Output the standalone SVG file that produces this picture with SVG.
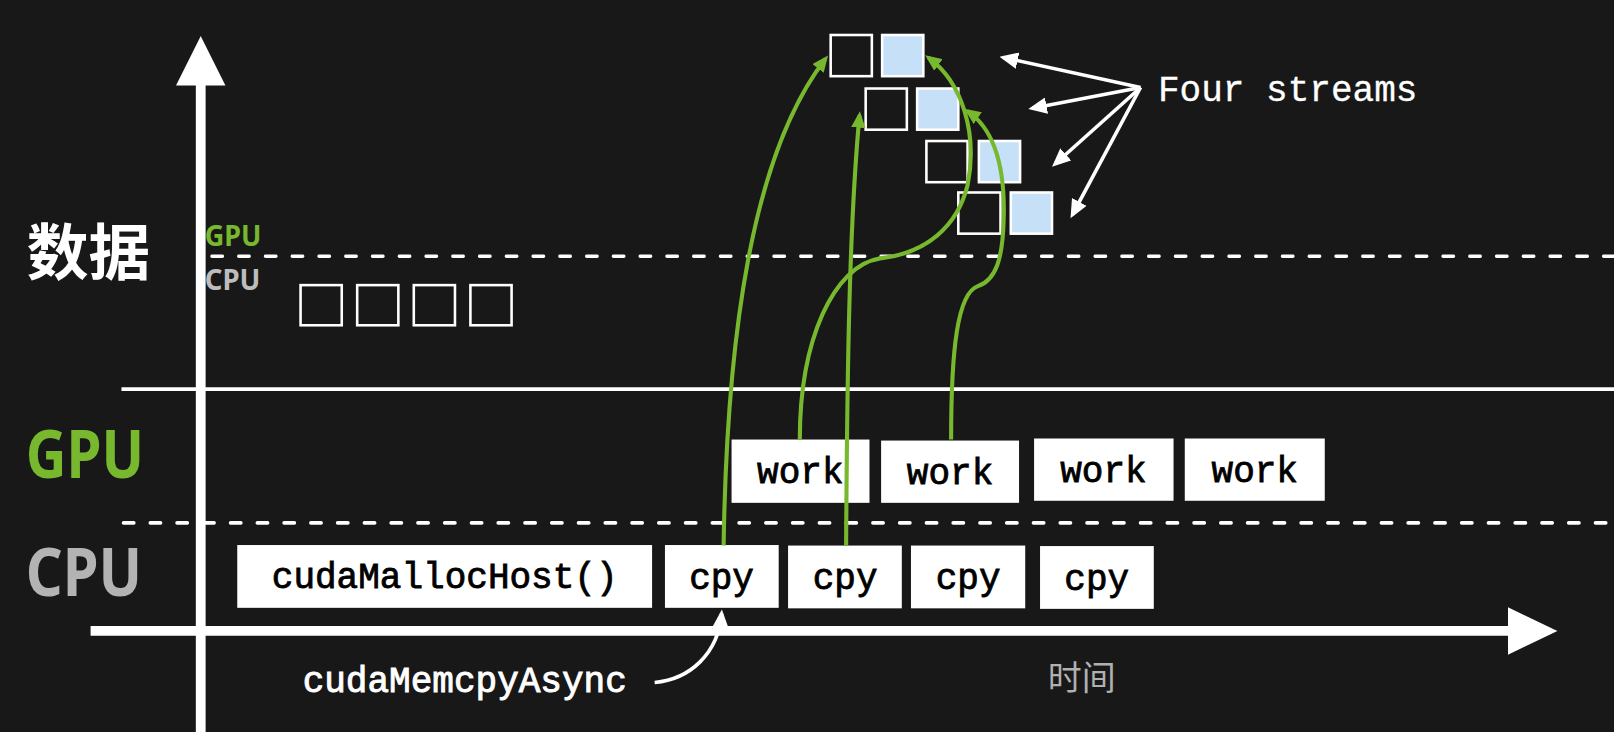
<svg xmlns="http://www.w3.org/2000/svg" width="1614" height="732" viewBox="0 0 1614 732">
<defs>
<style>
.mono{font-family:"Liberation Mono","DejaVu Sans Mono",monospace;font-size:35px}
.box{fill:#fff}
.bt{fill:#000;text-anchor:middle;stroke:#000;stroke-width:0.8}
.sq{fill:#181818;stroke:#fff;stroke-width:2.5}
.sqb{fill:#c5e0f7;stroke:#fff;stroke-width:2.5}
.green{fill:none;stroke:#77b82e;stroke-width:4;marker-end:url(#ag)}
.wl{fill:none;stroke:#fff;stroke-width:3.5;marker-end:url(#aw)}
.dash{stroke:#fff;stroke-width:3.5;stroke-dasharray:10 16;stroke-linecap:round}
.sans{font-family:"Noto Sans","Open Sans",sans-serif;font-weight:bold}
.cjk{font-family:"Noto Sans CJK SC","Noto Sans",sans-serif}
</style>
<marker id="ag" markerUnits="userSpaceOnUse" markerWidth="16" markerHeight="14" refX="12" refY="7" orient="auto"><path d="M0,0 L16,7 L0,14 z" fill="#77b82e"/></marker>
<marker id="aw" markerUnits="userSpaceOnUse" markerWidth="18" markerHeight="16" refX="14" refY="8" orient="auto"><path d="M0,0 L18,8 L0,16 z" fill="#fff"/></marker>
</defs>
<rect width="1614" height="732" fill="#181818"/>
<g transform="scale(1.02934)">
<g id="axes">
<line x1="195" y1="715" x2="195" y2="80" stroke="#fff" stroke-width="9.5"/>
<polygon points="171,83 219,83 195,35" fill="#fff"/>
<line x1="88" y1="613" x2="1468" y2="613" stroke="#fff" stroke-width="9.5"/>
<polygon points="1465,590 1465,636 1513,613" fill="#fff"/>
<line x1="118" y1="378" x2="1570" y2="378" stroke="#fff" stroke-width="3.5"/>
<line class="dash" x1="206" y1="249" x2="1570" y2="249"/>
<line class="dash" x1="120" y1="508" x2="1570" y2="508"/>
</g>
<g id="labels">
<text class="cjk" x="26" y="267" font-size="60" font-weight="bold" fill="#fff">数据</text>
<text class="sans" x="25" y="464" font-size="64" fill="#77b82e" textLength="115" lengthAdjust="spacingAndGlyphs">GPU</text>
<text class="sans" x="25" y="579" font-size="64" fill="#b3b3b3" textLength="113" lengthAdjust="spacingAndGlyphs">CPU</text>
<text class="sans" x="199" y="239" font-size="27" fill="#77b82e" textLength="55" lengthAdjust="spacingAndGlyphs">GPU</text>
<text class="sans" x="199" y="282" font-size="27" fill="#bdbdbd" textLength="54" lengthAdjust="spacingAndGlyphs">CPU</text>
<text class="cjk" x="1018" y="670" font-size="33" fill="#b0b0b0">时间</text>
<text class="mono" x="1125" y="98" fill="#fff" stroke="#fff" stroke-width="0.3">Four streams</text>
<text class="mono" x="294" y="672" fill="#fff" stroke="#fff" stroke-width="0.9">cudaMemcpyAsync</text>
</g>
<g id="cpu-data">
<rect class="sq" x="292" y="277" width="40" height="39"/>
<rect class="sq" x="347" y="277" width="40" height="39"/>
<rect class="sq" x="402" y="277" width="40" height="39"/>
<rect class="sq" x="457" y="277" width="40" height="39"/>
</g>
<g id="gpu-data">
<rect class="sq" x="807" y="34" width="40" height="40"/>
<rect class="sqb" x="857" y="34" width="40" height="40"/>
<rect class="sq" x="841" y="86" width="40" height="40"/>
<rect class="sqb" x="891" y="86" width="40" height="40"/>
<rect class="sq" x="900" y="137" width="40" height="40"/>
<rect class="sqb" x="951" y="137" width="40" height="40"/>
<rect class="sq" x="931" y="187" width="41" height="40"/>
<rect class="sqb" x="982" y="187" width="40" height="40"/>
</g>
<g id="malloc"><rect class="box" x="230.5" y="529.5" width="403" height="61"/><text class="mono bt" x="432" y="571">cudaMallocHost()</text></g>
<g id="cpy1"><rect class="box" x="646" y="529.5" width="110.5" height="61"/><text class="mono bt" x="701" y="572">cpy</text></g>
<g id="cpy2"><rect class="box" x="765.6" y="530" width="110.5" height="61"/><text class="mono bt" x="821" y="572">cpy</text></g>
<g id="cpy3"><rect class="box" x="885" y="530" width="111" height="61"/><text class="mono bt" x="940.5" y="572">cpy</text></g>
<g id="cpy4"><rect class="box" x="1010.4" y="530.5" width="110.5" height="61"/><text class="mono bt" x="1065.5" y="573">cpy</text></g>
<g id="work1"><rect class="box" x="710.7" y="427" width="134" height="61.5"/><text class="mono bt" x="777.5" y="469">work</text></g>
<g id="work2"><rect class="box" x="856" y="428" width="134" height="60.5"/><text class="mono bt" x="923" y="470">work</text></g>
<g id="work3"><rect class="box" x="1004.6" y="426" width="135.5" height="60.5"/><text class="mono bt" x="1072" y="468">work</text></g>
<g id="work4"><rect class="box" x="1151" y="426" width="136" height="60.5"/><text class="mono bt" x="1219" y="468">work</text></g>
<g id="connectors">
<path class="green" d="M703 530 C706 330 730 150 802 57"/>
<path class="green" d="M822 530 C823 360 825 220 835 112"/>
<path class="green" d="M777 427 C777 330 810 258 855 251 C900 246 930 220 940 180 C950 130 935 80 902 56"/>
<path class="green" d="M924 427 C924 340 930 285 950 278 C968 272 974 250 975 215 C977 160 965 125 940 108"/>
<path class="wl" d="M1108 85 L974.9 55.9"/>
<path class="wl" d="M1108 85 L1002.9 105.2"/>
<path class="wl" d="M1108 85 L1025 159.3"/>
<path class="wl" d="M1108 85 L1041.9 208.5"/>
<path class="wl" d="M636 663 C670 660 698 635 701 596"/>
</g>
</g>
</svg>
